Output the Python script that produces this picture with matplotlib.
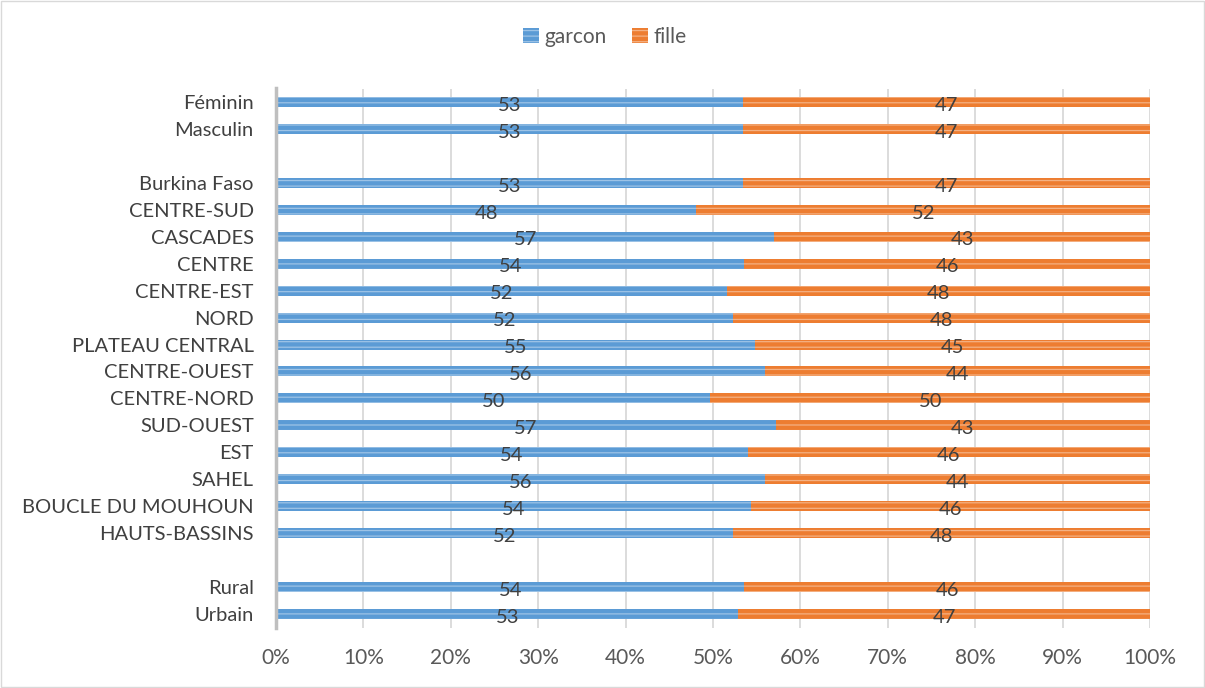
import matplotlib
matplotlib.use("Agg")
import matplotlib.pyplot as plt
from matplotlib.patches import Patch

categories = ["Féminin", "Masculin", "", "Burkina Faso", "CENTRE-SUD", "CASCADES",
              "CENTRE", "CENTRE-EST", "NORD", "PLATEAU CENTRAL", "CENTRE-OUEST",
              "CENTRE-NORD", "SUD-OUEST", "EST", "SAHEL", "BOUCLE DU MOUHOUN",
              "HAUTS-BASSINS", "", "Rural", "Urbain"]
garcon = [53.4, 53.4, None, 53.4, 48.1, 57.0, 53.6, 51.6, 52.3, 54.8, 55.9,
          49.7, 57.2, 54.0, 56.0, 54.3, 52.3, None, 53.6, 52.9]
fille = [46.6, 46.6, None, 46.6, 51.9, 43.0, 46.4, 48.4, 47.7, 45.2, 44.1,
         50.3, 42.8, 46.0, 44.0, 45.7, 47.7, None, 46.4, 47.1]
xticks = [0, 10, 20, 30, 40, 50, 60, 70, 80, 90, 100]
xticklabels = [f"{v}%" for v in xticks]

FONT = "Lato"
plt.rcParams['font.family'] = [FONT, 'DejaVu Sans']
plt.rcParams['hatch.linewidth'] = 0.9

blue = "#5B9BD5"
blue_h = "#9DC3E6"
orange = "#ED7D31"
orange_h = "#F4B183"

fig = plt.figure(figsize=(12.05, 6.88), dpi=100)
ax = fig.add_axes([276/1205, 1-627.5/688, 874/1205, 539/688])

bar_h = 0.37
for i, (g, f) in enumerate(zip(garcon, fille)):
    if g is None:
        continue
    ax.barh(i, g, height=bar_h, left=0, color=blue, edgecolor=blue_h,
            linewidth=0, hatch='---', zorder=3)
    ax.barh(i, f, height=bar_h, left=g, color=orange, edgecolor=orange_h,
            linewidth=0, hatch='---', zorder=3)
    ax.text(g/2, i+0.12, f"{round(g)}", ha='center', va='center',
            fontsize=14.5, color='#404040', zorder=4)
    ax.text(g + f/2, i+0.12, f"{round(f)}", ha='center', va='center',
            fontsize=14.5, color='#404040', zorder=4)

ax.set_xlim(0, 100)
ax.set_ylim(len(categories)-0.5, -0.5)
ax.set_yticks(range(len(categories)))
ax.set_yticklabels(categories, fontsize=14.5, color='#404040')
ax.set_xticks(xticks)
ax.set_xticklabels(xticklabels, fontsize=15, color='#595959')
ax.tick_params(axis='both', length=0)
ax.tick_params(axis='y', pad=16)
ax.tick_params(axis='x', pad=15)
ax.grid(axis='x', color='#D9D9D9', linewidth=1.3, zorder=0)
ax.set_axisbelow(True)
for s in ['top', 'right', 'bottom']:
    ax.spines[s].set_visible(False)
ax.spines['left'].set_color('#BFBFBF')
ax.spines['left'].set_linewidth(2.5)
ax.spines['left'].set_zorder(5)

handles = [Patch(facecolor=blue, edgecolor=blue_h, hatch='---', linewidth=0, label='garcon'),
           Patch(facecolor=orange, edgecolor=orange_h, hatch='---', linewidth=0, label='fille')]
leg = fig.legend(handles=handles, loc='center', bbox_to_anchor=(605/1205, 1-37/688),
                 ncol=2, frameon=False, fontsize=15, handlelength=0.75, handleheight=0.75,
                 handletextpad=0.3, columnspacing=1.2)
for t in leg.get_texts():
    t.set_color('#595959')

fig.add_artist(plt.Rectangle((0.001, 0.001), 0.998, 0.998, transform=fig.transFigure,
                             fill=False, edgecolor='#D9D9D9', linewidth=1))

fig.savefig("out.png", dpi=100)
